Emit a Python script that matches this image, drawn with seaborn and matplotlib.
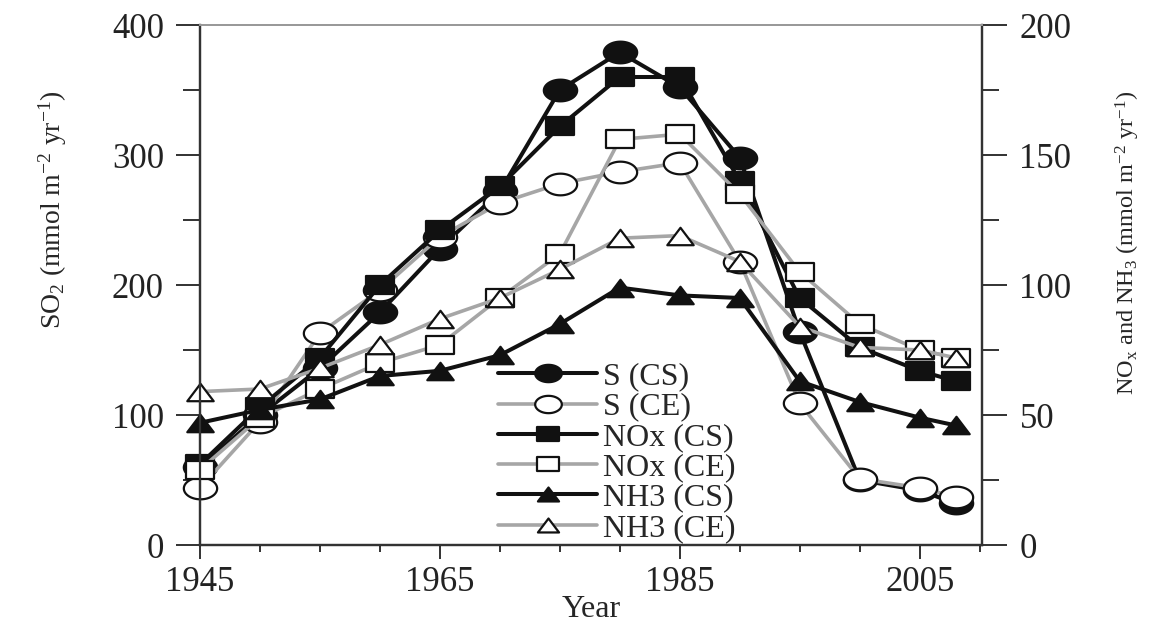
import numpy as np
import pandas as pd
import matplotlib
matplotlib.use("Agg")
import matplotlib.pyplot as plt
import seaborn as sns
from matplotlib.path import Path
from matplotlib.ticker import MultipleLocator, FixedLocator

# ---- data ----
years = [1945, 1950, 1955, 1960, 1965, 1970, 1975, 1980, 1985, 1990, 1995, 2000, 2005, 2008]
s_cs = [60, 100, 136, 179, 228, 272, 350, 379, 352, 298, 164, 50, 42, 32]
s_ce = [44, 95, 163, 196, 237, 263, 278, 287, 294, 218, 109, 51, 44, 37]
nox_cs = [31, 53, 72, 100, 121, 138, 161, 180, 180, 140, 95, 76, 67, 63]
nox_ce = [29, 49, 60, 70, 77, 95, 112, 156, 158, 135, 105, 85, 75, 72]
nh3_cs = [47, 52, 56, 65, 67, 73, 85, 99, 96, 95, 63, 55, 49, 46]
nh3_ce = [59, 60, 68, 77, 87, 95, 106, 118, 119, 109, 84, 76, 75, 72]
labels = ["S (CS)", "S (CE)", "NOx (CS)", "NOx (CE)", "NH3 (CS)", "NH3 (CE)"]
xticks_major = [1945, 1965, 1985, 2005]

sns.set_style("ticks")
plt.rcParams["font.family"] = ["Liberation Serif", "DejaVu Serif"]
plt.rcParams["mathtext.fontset"] = "custom"
plt.rcParams["mathtext.rm"] = "Liberation Serif"
plt.rcParams["mathtext.it"] = "Liberation Serif:italic"
plt.rcParams["mathtext.bf"] = "Liberation Serif:bold"

# ---- wide markers (the reference is horizontally stretched) ----
t = np.linspace(0, 2 * np.pi, 61)
ell = Path(np.column_stack([np.cos(t), 0.65 * np.sin(t)]), closed=True)
sq = Path([(-1, -0.62), (1, -0.62), (1, 0.62), (-1, 0.62), (-1, -0.62)], closed=True)
tri = Path([(0, 0.66), (-1, -0.66), (1, -0.66), (0, 0.66)], closed=True)

BLACK = "#111111"
GRAY = "#a6a6a6"

fig = plt.figure(figsize=(11.68, 6.23), dpi=100)
ax = fig.add_axes([200 / 1168, 1 - 545 / 623, 782 / 1168, 520 / 623])
ax2 = ax.twinx()

def draw(a, vals, lab, marker, ms, filled, color):
    sns.lineplot(x=years, y=vals, ax=a, color=color, linewidth=2.9 if color == BLACK else 2.6,
                 marker=marker, markersize=ms,
                 markerfacecolor=BLACK if filled else "white",
                 markeredgecolor=BLACK, markeredgewidth=1.6,
                 label=lab, errorbar=None, clip_on=False, legend=False)

draw(ax, s_cs, labels[0], ell, 24, True, BLACK)
draw(ax, s_ce, labels[1], ell, 24, False, GRAY)
draw(ax2, nox_cs, labels[2], sq, 20, True, BLACK)
draw(ax2, nox_ce, labels[3], sq, 20, False, GRAY)
draw(ax2, nh3_cs, labels[4], tri, 19, True, BLACK)
draw(ax2, nh3_ce, labels[5], tri, 19, False, GRAY)

for a in (ax, ax2):
    lg = a.get_legend()
    if lg is not None:
        lg.remove()

ax.set_xlim(1945, 2010.2)
ax.set_ylim(0, 400)
ax2.set_ylim(0, 200)

ax.xaxis.set_major_locator(FixedLocator(xticks_major))
ax.xaxis.set_minor_locator(MultipleLocator(5))
ax.yaxis.set_major_locator(MultipleLocator(100))
ax.yaxis.set_minor_locator(MultipleLocator(50))
ax2.yaxis.set_major_locator(MultipleLocator(50))
ax2.yaxis.set_minor_locator(MultipleLocator(25))

ax.tick_params(axis="x", which="major", length=10, width=1.3, direction="out", labelsize=25, pad=5, colors="#222222")
ax.tick_params(axis="x", which="minor", length=5, width=1.3, direction="out", colors="#222222")
ax.tick_params(axis="y", which="major", length=17, width=1.3, direction="out", labelsize=25, pad=9, colors="#222222")
ax.tick_params(axis="y", which="minor", length=12, width=1.3, direction="out", colors="#222222")
ax2.tick_params(axis="y", which="major", length=18, width=1.3, direction="out", labelsize=25, pad=9, colors="#222222")
ax2.tick_params(axis="y", which="minor", length=12, width=1.3, direction="out", colors="#222222")
ax2.tick_params(axis="x", which="both", bottom=False, top=False, labelbottom=False)

for a in (ax, ax2):
    for side in ("left", "right", "bottom"):
        a.spines[side].set_visible(True)
        a.spines[side].set_color("#333333")
        a.spines[side].set_linewidth(1.6)
    a.spines["top"].set_visible(True)
    a.spines["top"].set_color("#999999")
    a.spines["top"].set_linewidth(1.4)

ax.set_xlabel("Year", fontsize=23, labelpad=-3)
ax.set_ylabel(r"SO$_2$ (mmol m$^{-2}$ yr$^{-1}$)", fontsize=20)
ax.yaxis.set_label_coords(-0.168, 0.645)
ax2.set_ylabel(r"NO$_\mathrm{x}$ and NH$_3$ (mmol m$^{-2}$ yr$^{-1}$)", fontsize=17.5)
ax2.yaxis.set_label_coords(1.168, 0.58)

handles = ax.get_lines()[:2] + ax2.get_lines()[:4]
ax2.legend(handles=handles, labels=labels, loc="upper left",
           bbox_to_anchor=(498 / 1168, 1 - 362 / 623), bbox_transform=fig.transFigure,
           frameon=False, fontsize=23, borderpad=0, borderaxespad=0,
           handlelength=3.1, handletextpad=0.2, labelspacing=0.03,
           markerscale=0.8, numpoints=1)

fig.savefig("out.png", dpi=100)
